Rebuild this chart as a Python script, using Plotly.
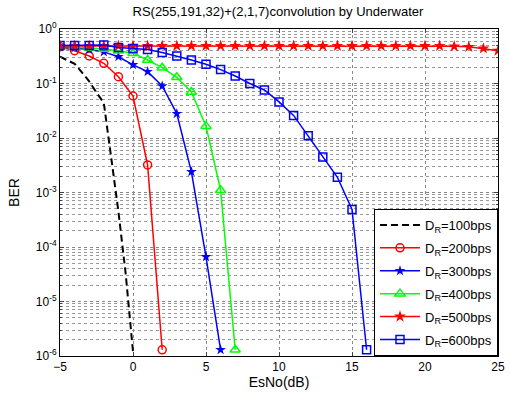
import plotly.graph_objects as go

x100 = [-5, -4.5, -4, -3.5, -3, -2.5, -2, -1.5, -1, -0.5, 0]
ber100 = [0.31, 0.27, 0.23, 0.16, 0.11, 0.068, 0.044, 0.0045, 0.00045, 0.000032, 0.0000012]

x200 = [-5, -4, -3, -2, -1, 0, 1, 2]
ber200 = [0.47, 0.40, 0.32, 0.235, 0.133, 0.059, 0.0032, 0.0000013]

x300 = [-5, -4, -3, -2, -1, 0, 1, 2, 3, 4, 5, 6]
ber300 = [0.47, 0.45, 0.42, 0.38, 0.31, 0.22, 0.165, 0.09, 0.028, 0.0024, 0.000066, 0.0000013]

x400 = [-5, -4, -3, -2, -1, 0, 1, 2, 3, 4, 5, 6, 7]
ber400 = [0.48, 0.47, 0.45, 0.43, 0.40, 0.36, 0.27, 0.195, 0.13, 0.07, 0.0165, 0.0011, 0.0000013]

x500 = list(range(-5, 26))
ber500 = [0.49, 0.49, 0.49, 0.49, 0.49, 0.49, 0.49, 0.49, 0.49, 0.49, 0.49,
          0.49, 0.49, 0.49, 0.49, 0.49, 0.49, 0.49, 0.49, 0.49, 0.49,
          0.49, 0.49, 0.49, 0.49, 0.49, 0.49, 0.48, 0.47, 0.44, 0.40]

x600 = list(range(-5, 17))
ber600 = [0.5, 0.5, 0.5, 0.51, 0.46, 0.44, 0.42, 0.37, 0.32, 0.27, 0.225, 0.18,
          0.137, 0.1, 0.076, 0.046, 0.026, 0.011, 0.0045, 0.0019, 0.00049, 0.0000013]

xticks = [-5, 0, 5, 10, 15, 20, 25]
yticks = [1e-6, 1e-5, 1e-4, 1e-3, 1e-2, 1e-1, 1]
yticklabels = ["10<sup>-6</sup>", "10<sup>-5</sup>", "10<sup>-4</sup>", "10<sup>-3</sup>",
               "10<sup>-2</sup>", "10<sup>-1</sup>", "10<sup>0</sup>"]

fig = go.Figure()
fig.add_trace(go.Scatter(x=x100, y=ber100, mode="lines", name="D<sub>R</sub>=100bps",
                         legendgroup="a",
                         line=dict(color="black", width=2, dash="7px,4px")))
fig.add_trace(go.Scatter(x=x200, y=ber200, mode="lines+markers", name="D<sub>R</sub>=200bps",
                         legendgroup="b",
                         line=dict(color="#ff0000", width=1.5),
                         marker=dict(symbol="circle-open", size=8, color="#ff0000", line=dict(width=1.5))))
fig.add_trace(go.Scatter(x=x300, y=ber300, mode="lines+markers", name="D<sub>R</sub>=300bps",
                         legendgroup="c",
                         line=dict(color="#0000ff", width=1.5),
                         marker=dict(symbol="star", size=8, color="#0000ff")))
fig.add_trace(go.Scatter(x=x400, y=ber400, mode="lines+markers", name="D<sub>R</sub>=400bps",
                         legendgroup="d",
                         line=dict(color="#00ff00", width=1.5),
                         marker=dict(symbol="triangle-up-open", size=9, color="#00ff00", line=dict(width=1.5))))
fig.add_trace(go.Scatter(x=x500, y=ber500, mode="lines+markers", name="D<sub>R</sub>=500bps",
                         legendgroup="e",
                         line=dict(color="#ff0000", width=1.5),
                         marker=dict(symbol="star", size=9, color="#ff0000")))
fig.add_trace(go.Scatter(x=x600, y=ber600, mode="lines+markers", name="D<sub>R</sub>=600bps",
                         legendgroup="f",
                         line=dict(color="#0000ff", width=1.5),
                         marker=dict(symbol="square-open", size=8, color="#0000ff", line=dict(width=1.5))))

fig.update_layout(
    width=510, height=393,
    margin=dict(l=60, r=12, t=29, b=37),
    paper_bgcolor="white", plot_bgcolor="white",
    font=dict(family="Liberation Sans, Arial, sans-serif", size=12, color="black"),
    title=dict(text="RS(255,191,32)+(2,1,7)convolution by Underwater", x=0.545, xanchor="center",
               y=0.982, yanchor="top", font=dict(size=13)),
    legend=dict(x=1, y=0, xanchor="right", yanchor="bottom", bgcolor="white",
                bordercolor="black", borderwidth=1, font=dict(size=13),
                tracegroupgap=3, itemwidth=40),
    showlegend=True,
)
fig.update_xaxes(range=[-5, 25], tickvals=xticks, ticks="inside", ticklen=4, mirror="ticks",
                 showline=True, linecolor="black", linewidth=1, automargin=False,
                 showgrid=True, gridcolor="#888888", griddash="dot", gridwidth=1,
                 zeroline=False, title=dict(text="EsNo(dB)", standoff=0), tickfont=dict(size=12))
fig.update_yaxes(type="log", range=[-6, 0], tickvals=yticks, ticktext=yticklabels,
                 ticks="inside", ticklen=4, mirror="ticks", automargin=False,
                 showline=True, linecolor="black", linewidth=1,
                 showgrid=True, gridcolor="#888888", griddash="dot", gridwidth=1,
                 minor=dict(ticks="inside", ticklen=2, showgrid=True, gridcolor="#999999",
                            griddash="dot", gridwidth=1, dtick="D1"),
                 zeroline=False, title=dict(text="BER", standoff=12), tickfont=dict(size=12))

post = ("document.body.style.margin='0';"
        "document.documentElement.style.overflow='hidden';"
        "document.body.style.overflow='hidden';")
fig.write_html("out.html", post_script=post, config={"displayModeBar": False})
